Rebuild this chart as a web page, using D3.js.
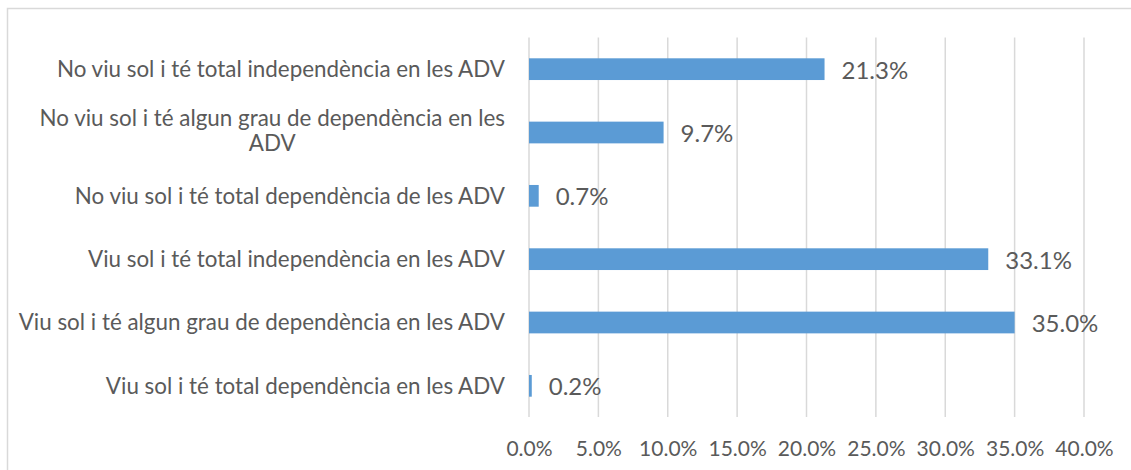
<!DOCTYPE html>
<html>
<head>
<meta charset="utf-8">
<script src="https://cdn.jsdelivr.net/npm/d3@7"></script>
<style>
  html, body { margin: 0; padding: 0; background: #fff; }
  svg { display: block; }
  text { font-family: Lato, "Noto Sans", sans-serif; fill: #5a5a5a; }
</style>
</head>
<body>
<svg id="chart" width="1131" height="470"></svg>
<script>
// dades del gràfic (de dalt a baix)
const categories = [
  'No viu sol i té total independència en les ADV',
  'No viu sol i té algun grau de dependència en les ADV',
  'No viu sol i té total dependència de les ADV',
  'Viu sol i té total independència en les ADV',
  'Viu sol i té algun grau de dependència en les ADV',
  'Viu sol i té total dependència en les ADV'
];
const values = [0.213, 0.097, 0.007, 0.331, 0.350, 0.002];
const tickValues = [0, 0.05, 0.10, 0.15, 0.20, 0.25, 0.30, 0.35, 0.40];
// etiquetes que Excel parteix en dues línies
const wrapped = {
  'No viu sol i té algun grau de dependència en les ADV': ['No viu sol i té algun grau de dependència en les', 'ADV']
};

const svg = d3.select('#chart');
const fmt = d3.format('.1%');

const x = d3.scaleLinear().domain([0, 0.4]).range([529, 1084]);
const y = d3.scaleBand().domain(categories).range([37.5, 417.5])
  .paddingInner(0.657).paddingOuter(0.3285);

// marc del gràfic
svg.append('rect')
  .attr('x', 7.5).attr('y', 8.5)
  .attr('width', 1140).attr('height', 480)
  .attr('fill', 'none')
  .attr('stroke', '#d9d9d9')
  .attr('stroke-width', 1.5);

// línies de la graella
svg.append('g').selectAll('line')
  .data(tickValues)
  .join('line')
  .attr('x1', d => x(d)).attr('x2', d => x(d))
  .attr('y1', 37.5).attr('y2', 417)
  .attr('stroke', '#d9d9d9')
  .attr('stroke-width', 1.5);

// eix X (etiquetes)
const xAxis = svg.append('g')
  .attr('transform', 'translate(0,449)')
  .call(d3.axisBottom(x).tickValues(tickValues).tickFormat(fmt).tickSize(0).tickPadding(0));
xAxis.select('.domain').remove();
xAxis.selectAll('text')
  .attr('dy', '0.35em')
  .attr('font-size', 21)
  .style('font-family', 'Lato, "Noto Sans", sans-serif')
  .attr('fill', '#5a5a5a');

// barres
const data = categories.map((c, i) => ({ cat: c, val: values[i] }));

svg.append('g').selectAll('rect')
  .data(data)
  .join('rect')
  .attr('x', x(0))
  .attr('y', d => y(d.cat))
  .attr('width', d => x(d.val) - x(0))
  .attr('height', y.bandwidth())
  .attr('fill', '#5b9bd5');

// etiquetes de valor
svg.append('g').selectAll('text')
  .data(data)
  .join('text')
  .attr('x', d => x(d.val) + 17)
  .attr('y', d => y(d.cat) + y.bandwidth() / 2 + 1)
  .attr('dy', '0.35em')
  .attr('font-size', 24)
  .text(d => fmt(d.val));

// etiquetes de categoria
const labelRight = 505;
const catSize = 22.4;
const catG = svg.append('g');
data.forEach(d => {
  const cy = y(d.cat) + y.bandwidth() / 2;
  const lines = wrapped[d.cat];
  if (!lines) {
    catG.append('text')
      .attr('x', labelRight)
      .attr('y', cy)
      .attr('dy', '0.35em')
      .attr('text-anchor', 'end')
      .attr('font-size', catSize)
      .text(d.cat);
  } else {
    const t = catG.append('text')
      .attr('font-size', catSize)
      .attr('text-anchor', 'middle');
    const lh = 25;
    const y0 = cy - 2 - lh * (lines.length - 1) / 2;
    lines.forEach((l, i) => {
      t.append('tspan').attr('y', y0 + i * lh).attr('dy', '0.35em').text(l);
    });
    // centra el bloc sobre la línia més llarga, alineada a la dreta
    const w = d3.max(t.selectAll('tspan').nodes(), n => n.getComputedTextLength());
    t.selectAll('tspan').attr('x', labelRight - w / 2);
  }
});
</script>
</body>
</html>
